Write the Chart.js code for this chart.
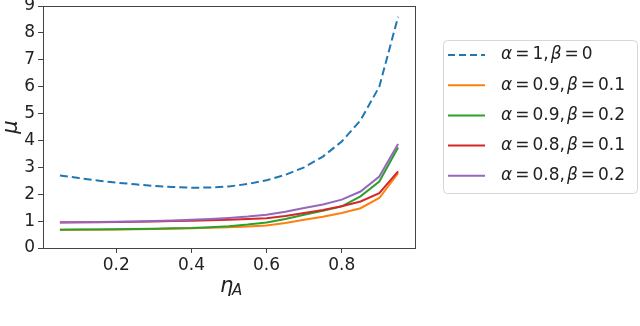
<!DOCTYPE html>
<html>
<head>
<meta charset="utf-8">
<script src="https://cdn.jsdelivr.net/npm/chart.js@4"></script>
<style>
  html, body { margin: 0; padding: 0; background: #fff; }
  #wrap { width: 640px; height: 326px; }
</style>
</head>
<body>
<div id="wrap"><canvas id="muChart" width="640" height="326"></canvas></div>
<script>
// eta_A sample points
const etaA = [0.05, 0.1, 0.15, 0.2, 0.25, 0.3, 0.35, 0.4, 0.45, 0.5,
              0.55, 0.6, 0.65, 0.7, 0.75, 0.8, 0.85, 0.9, 0.95];

// mu for each (alpha, beta) pair
const muA1B0   = [2.70, 2.60, 2.51, 2.43, 2.37, 2.31, 2.27, 2.24, 2.25, 2.29,
                  2.38, 2.52, 2.72, 3.00, 3.40, 3.96, 4.75, 6.00, 8.60];
const muA09B01 = [0.68, 0.68, 0.69, 0.69, 0.70, 0.71, 0.72, 0.73, 0.75, 0.77,
                  0.80, 0.84, 0.93, 1.05, 1.16, 1.30, 1.48, 1.86, 2.78];
const muA09B02 = [0.68, 0.69, 0.69, 0.70, 0.71, 0.72, 0.73, 0.74, 0.77, 0.81,
                  0.87, 0.95, 1.08, 1.24, 1.38, 1.55, 1.92, 2.47, 3.74];
const muA08B01 = [0.95, 0.96, 0.96, 0.97, 0.98, 0.99, 1.00, 1.01, 1.03, 1.05,
                  1.08, 1.11, 1.19, 1.30, 1.41, 1.55, 1.73, 2.04, 2.85];
const muA08B02 = [0.96, 0.96, 0.97, 0.98, 0.99, 1.00, 1.02, 1.05, 1.08, 1.12,
                  1.17, 1.24, 1.35, 1.49, 1.62, 1.80, 2.10, 2.66, 3.87];

const seriesNames = [["1", "0"], ["0.9", "0.1"], ["0.9", "0.2"], ["0.8", "0.1"], ["0.8", "0.2"]];
const seriesColors = ["#1f77b4", "#ff7f0e", "#2ca02c", "#d62728", "#9467bd"];
const seriesValues = [muA1B0, muA09B01, muA09B02, muA08B01, muA08B02];

const xTicks = [0.2, 0.4, 0.6, 0.8];
const yTicks = [0, 1, 2, 3, 4, 5, 6, 7, 8, 9];

const tickFont = { family: "DejaVu Sans", size: 17 };

// frame, axis titles and boxed legend
const extrasPlugin = {
  id: "extras",
  afterDraw(chart) {
    const ctx = chart.ctx;
    const a = chart.chartArea;
    ctx.save();
    ctx.strokeStyle = "#444";
    ctx.lineWidth = 1;
    ctx.strokeRect(Math.round(a.left) + 0.5, Math.round(a.top) + 0.5,
                   Math.round(a.right - a.left), Math.round(a.bottom - a.top));

    // x title: eta_A
    ctx.fillStyle = "#222";
    ctx.textBaseline = "alphabetic";
    ctx.font = "italic 21px 'DejaVu Sans'";
    ctx.textAlign = "left";
    const cx = (a.left + a.right) / 2;
    ctx.fillText("η", cx - 9, 292);
    ctx.font = "italic 15px 'DejaVu Sans'";
    ctx.fillText("A", cx + 3, 295);

    // y title: mu
    ctx.save();
    ctx.translate(17, (a.top + a.bottom) / 2);
    ctx.rotate(-Math.PI / 2);
    ctx.font = "italic 21px 'DejaVu Sans'";
    ctx.textAlign = "center";
    ctx.fillText("μ", 0, 0);
    ctx.restore();

    // legend box
    const bx = 443.5, by = 40.5, bw = 194, bh = 153, r = 4;
    ctx.beginPath();
    ctx.moveTo(bx + r, by);
    ctx.arcTo(bx + bw, by, bx + bw, by + bh, r);
    ctx.arcTo(bx + bw, by + bh, bx, by + bh, r);
    ctx.arcTo(bx, by + bh, bx, by, r);
    ctx.arcTo(bx, by, bx + bw, by, r);
    ctx.closePath();
    ctx.fillStyle = "rgba(255,255,255,0.8)";
    ctx.fill();
    ctx.strokeStyle = "#d6d6d6";
    ctx.stroke();

    seriesNames.forEach((nm, i) => {
      const y = 55 + i * 30.2;
      ctx.strokeStyle = seriesColors[i];
      ctx.lineWidth = 2;
      ctx.setLineDash(i === 0 ? [7, 4] : []);
      ctx.beginPath();
      ctx.moveTo(448, y);
      ctx.lineTo(485, y);
      ctx.stroke();
      ctx.setLineDash([]);

      // math-style label: tight spacing like matplotlib mathtext
      ctx.fillStyle = "#222";
      ctx.textAlign = "left";
      ctx.textBaseline = "middle";
      let x = 501;
      const parts = [["α", true, 3], ["=", false, 3], [nm[0] + ",", false, 2],
                     ["β", true, 3], ["=", false, 3], [nm[1], false, 0]];
      parts.forEach(([t, it, gap]) => {
        ctx.font = (it ? "italic " : "") + "17px 'DejaVu Sans'";
        ctx.fillText(t, x, y);
        x += ctx.measureText(t).width + gap;
      });
    });
    ctx.restore();
  }
};

const datasets = seriesValues.map((vals, i) => ({
  label: "α = " + seriesNames[i][0] + ", β = " + seriesNames[i][1],
  data: etaA.map((e, k) => ({ x: e, y: vals[k] })),
  borderColor: seriesColors[i],
  backgroundColor: seriesColors[i],
  borderWidth: 2,
  borderDash: i === 0 ? [8, 4] : [],
  pointRadius: 0,
  tension: 0,
  fill: false,
  order: 4 - i
}));

new Chart(document.getElementById("muChart"), {
  type: "line",
  data: { datasets },
  options: {
    responsive: false,
    animation: false,
    layout: { padding: { left: 0, top: 6, right: 225, bottom: 48 } },
    plugins: { legend: { display: false }, tooltip: { enabled: false } },
    scales: {
      x: {
        type: "linear",
        min: 0.005,
        max: 0.995,
        afterBuildTicks: s => { s.ticks = xTicks.map(v => ({ value: v })); },
        afterFit: s => { s.height = 30; s.paddingLeft = 0; s.paddingRight = 0; },
        grid: { drawOnChartArea: false, drawTicks: true, tickLength: 5, color: "#444" },
        border: { display: false },
        ticks: { font: tickFont, color: "#222", padding: 2, maxRotation: 0 }
      },
      y: {
        type: "linear",
        min: 0,
        max: 9,
        afterBuildTicks: s => { s.ticks = yTicks.map(v => ({ value: v })); },
        afterFit: s => { s.width = 43; s.paddingTop = 0; s.paddingBottom = 0; },
        grid: { drawOnChartArea: false, drawTicks: true, tickLength: 5, color: "#444" },
        border: { display: false },
        ticks: { font: tickFont, color: "#222", padding: 3 }
      }
    }
  },
  plugins: [extrasPlugin]
});
</script>
</body>
</html>
